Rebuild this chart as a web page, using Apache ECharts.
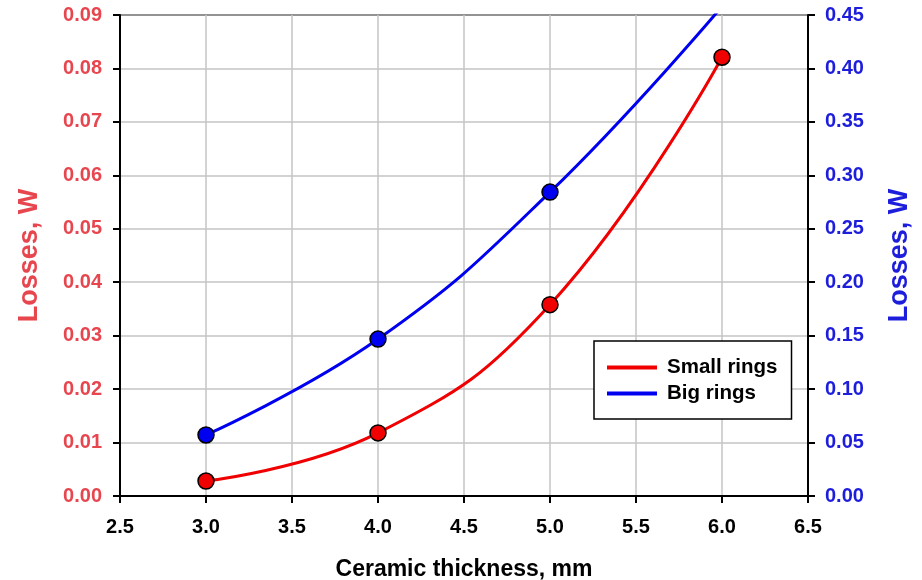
<!DOCTYPE html>
<html>
<head>
<meta charset="utf-8">
<script src="https://cdn.jsdelivr.net/npm/echarts@6/dist/echarts.min.js"></script>
<style>html,body{margin:0;padding:0;background:#fff}#c{width:922px;height:580px}</style>
</head>
<body>
<div id="c"></div>
<script>
const thickness = [3.0, 4.0, 5.0, 6.0];
const smallRings = [0.0028, 0.0118, 0.0358, 0.0821];
const bigRings = [0.0571, 0.1468, 0.2843, 0.458];
const seriesNames = ['Small rings', 'Big rings'];

const FONT = 'Liberation Sans, Arial, sans-serif';
const RED = '#f00000', BLUE = '#0000f0';
const RED_TXT = '#e8464f', BLUE_TXT = '#1d1ddc';

const pairs = (ys) => thickness.map((x, i) => [x, ys[i]]);

const chart = echarts.init(document.getElementById('c'));
chart.setOption({
  animation: false,
  backgroundColor: '#fff',
  grid: { left: 120, right: 114, top: 15, bottom: 84, containLabel: false, outerBoundsMode: 'none',
    show: true, borderColor: '#000', borderWidth: 2, backgroundColor: 'transparent' },
  legend: {
    orient: 'vertical', left: 594, top: 341,
    data: seriesNames,
    icon: 'rect', itemWidth: 50, itemHeight: 4, itemGap: 5,
    padding: [16, 14, 15, 13],
    borderColor: '#000', borderWidth: 1.5, backgroundColor: '#fff',
    textStyle: { fontFamily: FONT, fontWeight: 'bold', fontSize: 20.5, color: '#000', padding: [0, 0, 0, 5] }
  },
  xAxis: {
    type: 'value', min: 2.5, max: 6.5, interval: 0.5,
    name: 'Ceramic thickness, mm', nameLocation: 'middle', nameGap: 62,
    nameTextStyle: { fontFamily: FONT, fontWeight: 'bold', fontSize: 23, color: '#000' },
    axisLine: { show: true, lineStyle: { color: '#000', width: 2 } },
    axisTick: { show: true, length: 7, lineStyle: { color: '#000', width: 2 } },
    axisLabel: { fontFamily: FONT, fontWeight: 'bold', fontSize: 20, color: '#000', margin: 21, formatter: v => v.toFixed(1) },
    splitLine: { show: true, lineStyle: { color: '#c4c4c4', width: 1.5 } }
  },
  yAxis: [{
    type: 'value', min: 0, max: 0.09, interval: 0.01, position: 'left',
    name: 'Losses, W', nameLocation: 'middle', nameGap: 77, nameRotate: 90,
    nameTextStyle: { fontFamily: FONT, fontWeight: 'bold', fontSize: 27, color: RED_TXT },
    axisLine: { show: true, lineStyle: { color: '#000', width: 2 } },
    axisTick: { show: true, length: 7, lineStyle: { color: '#000', width: 2 } },
    axisLabel: { fontFamily: FONT, fontWeight: 'bold', fontSize: 20, color: RED_TXT, margin: 18, formatter: v => v.toFixed(2) },
    splitLine: { show: true, lineStyle: { color: '#c4c4c4', width: 1.5 } }
  }, {
    type: 'value', min: 0, max: 0.45, interval: 0.05, position: 'right',
    name: 'Losses, W', nameLocation: 'middle', nameGap: 78, nameRotate: 90,
    nameTextStyle: { fontFamily: FONT, fontWeight: 'bold', fontSize: 27, color: BLUE_TXT },
    axisLine: { show: true, lineStyle: { color: '#000', width: 2 } },
    axisTick: { show: true, length: 7, lineStyle: { color: '#000', width: 2 } },
    axisLabel: { fontFamily: FONT, fontWeight: 'bold', fontSize: 20, color: BLUE_TXT, margin: 17, formatter: v => v.toFixed(2) },
    splitLine: { show: false }
  }],
  series: [
    { name: seriesNames[0], type: 'line', yAxisIndex: 0, data: pairs(smallRings), smooth: 0.45, showSymbol: false, clip: true,
      lineStyle: { color: RED, width: 3 }, itemStyle: { color: RED }, z: 3 },
    { name: seriesNames[1], type: 'line', yAxisIndex: 1, data: pairs(bigRings), smooth: 0.45, showSymbol: false, clip: true,
      lineStyle: { color: BLUE, width: 3 }, itemStyle: { color: BLUE }, z: 3 },
    { name: 'sm-pts', type: 'scatter', yAxisIndex: 0, data: pairs(smallRings), symbolSize: 16, clip: true,
      itemStyle: { color: RED, borderColor: '#000', borderWidth: 1.5, opacity: 1 }, z: 5 },
    { name: 'big-pts', type: 'scatter', yAxisIndex: 1, data: pairs(bigRings), symbolSize: 16, clip: true,
      itemStyle: { color: BLUE, borderColor: '#000', borderWidth: 1.5, opacity: 1 }, z: 5 }
  ]
});
</script>
</body>
</html>
